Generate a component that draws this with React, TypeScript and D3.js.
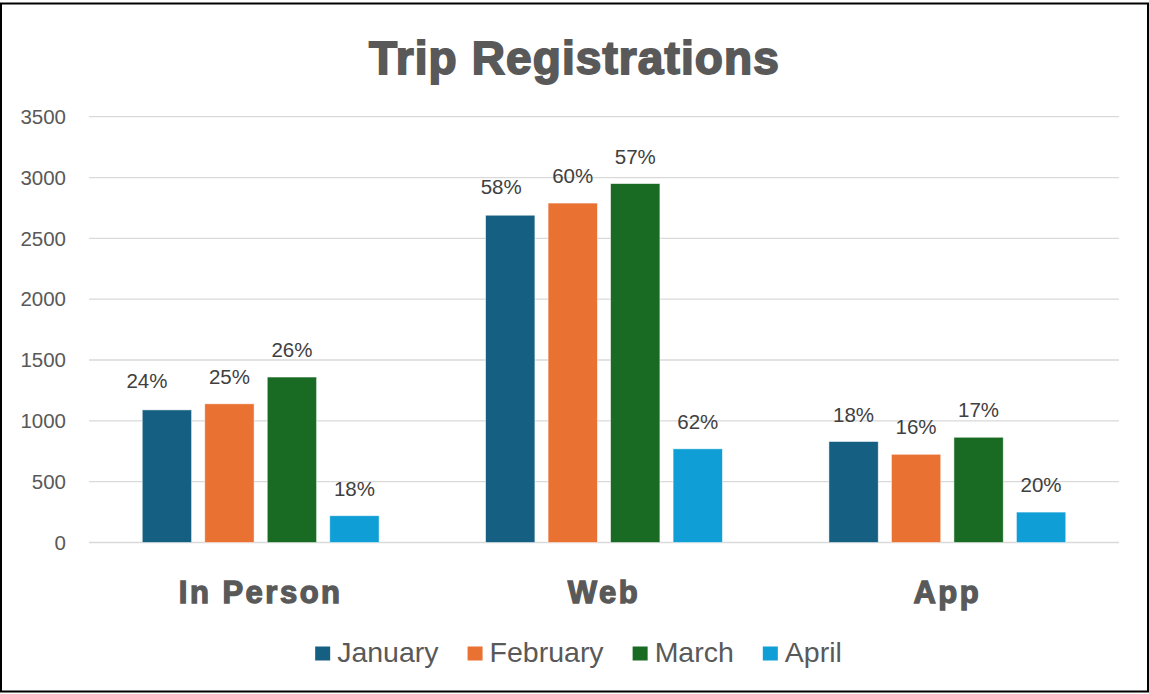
import React, { useRef, useEffect } from "react";
import * as d3 from "d3";

const W = 1149;
const H = 694;
const FONT = "'Liberation Sans', Arial, sans-serif";

const categories = ["In Person", "Web", "App"];
const months = ["January", "February", "March", "April"];
const colors = ["#156082", "#E97132", "#196B24", "#0F9ED5"];

// registrations per category, one array per month
const january = [1090, 2690, 830];
const february = [1140, 2790, 725];
const march = [1360, 2950, 865];
const april = [220, 770, 250];

// share of the month's total, as shown on the labels
const januaryPct = ["24%", "58%", "18%"];
const februaryPct = ["25%", "60%", "16%"];
const marchPct = ["26%", "57%", "17%"];
const aprilPct = ["18%", "62%", "20%"];

const yTicks = [0, 500, 1000, 1500, 2000, 2500, 3000, 3500];

const PLOT = { left: 89, right: 1119, top: 116.7, bottom: 542.5 };

// a couple of labels were dragged by hand in the original
const labelNudge: Record<string, [number, number]> = {
  "In Person|January": [-20, -2],
  "Web|January": [-9, -1],
};

export default function App() {
  const svgRef = useRef<SVGSVGElement>(null);

  useEffect(() => {
    document.body.style.margin = "0";
    const svg = d3.select(svgRef.current);
    svg.selectAll("*").remove();

    const values = [january, february, march, april];
    const pcts = [januaryPct, februaryPct, marchPct, aprilPct];

    const rows = categories.flatMap((cat, ci) =>
      months.map((m, mi) => ({
        cat,
        month: m,
        value: values[mi][ci],
        pct: pcts[mi][ci],
      })),
    );

    const x0 = d3
      .scaleBand<string>()
      .domain(categories)
      .range([PLOT.left, PLOT.right])
      .padding(0);
    const x1 = d3
      .scaleBand<string>()
      .domain(months)
      .range([0, x0.bandwidth()])
      .paddingInner(0.211)
      .paddingOuter(0.852);
    const y = d3
      .scaleLinear()
      .domain([0, 3500])
      .range([PLOT.bottom, PLOT.top]);
    const color = d3.scaleOrdinal<string>().domain(months).range(colors);

    // background + border
    svg
      .append("rect")
      .attr("width", W)
      .attr("height", H)
      .attr("fill", "#fff");
    svg
      .append("rect")
      .attr("x", 1)
      .attr("y", 3.5)
      .attr("width", W - 2)
      .attr("height", 688)
      .attr("fill", "none")
      .attr("stroke", "#000")
      .attr("stroke-width", 2);

    // title
    svg
      .append("text")
      .attr("x", W / 2)
      .attr("y", 74)
      .attr("text-anchor", "middle")
      .attr("font-family", FONT)
      .attr("font-size", 46)
      .attr("font-weight", 700)
      .attr("letter-spacing", 1.1)
      .attr("fill", "#595959")
      .attr("stroke", "#595959")
      .attr("stroke-width", 1.8)
      .text("Trip Registrations");

    // gridlines
    svg
      .append("g")
      .selectAll("line")
      .data(yTicks)
      .join("line")
      .attr("x1", PLOT.left)
      .attr("x2", PLOT.right)
      .attr("y1", (d) => y(d))
      .attr("y2", (d) => y(d))
      .attr("stroke", "#d9d9d9")
      .attr("stroke-width", 1.3);

    // y tick labels
    svg
      .append("g")
      .selectAll("text")
      .data(yTicks)
      .join("text")
      .attr("x", 66)
      .attr("y", (d) => y(d))
      .attr("dy", "0.35em")
      .attr("text-anchor", "end")
      .attr("font-family", FONT)
      .attr("font-size", 20.5)
      .attr("fill", "#595959")
      .text((d) => d);

    // bars
    svg
      .append("g")
      .selectAll("rect")
      .data(rows)
      .join("rect")
      .attr("x", (d) => x0(d.cat)! + x1(d.month)!)
      .attr("y", (d) => y(d.value))
      .attr("width", x1.bandwidth())
      .attr("height", (d) => y(0) - y(d.value))
      .attr("fill", (d) => color(d.month))
      .attr("stroke", "#fff")
      .attr("stroke-opacity", 0.6)
      .attr("stroke-width", 0.8);

    // data labels
    const nudge = (d: { cat: string; month: string }) =>
      labelNudge[`${d.cat}|${d.month}`] ?? [0, 0];
    svg
      .append("g")
      .selectAll("text")
      .data(rows)
      .join("text")
      .attr(
        "x",
        (d) => x0(d.cat)! + x1(d.month)! + x1.bandwidth() / 2 + nudge(d)[0],
      )
      .attr("y", (d) => y(d.value) - 20 + nudge(d)[1])
      .attr("text-anchor", "middle")
      .attr("font-family", FONT)
      .attr("font-size", 20.5)
      .attr("fill", "#404040")
      .text((d) => d.pct);

    // category labels
    svg
      .append("g")
      .selectAll("text")
      .data(categories)
      .join("text")
      .attr("x", (d) => x0(d)! + x0.bandwidth() / 2)
      .attr("y", 602.5)
      .attr("text-anchor", "middle")
      .attr("font-family", FONT)
      .attr("font-size", 31)
      .attr("font-weight", 700)
      .attr("letter-spacing", 2.5)
      .attr("fill", "#595959")
      .attr("stroke", "#595959")
      .attr("stroke-width", 1.3)
      .text((d) => d);

    // legend, centred on the chart
    const items = svg.append("g").selectAll("g").data(months).join("g");
    items
      .append("rect")
      .attr("y", 646.5)
      .attr("width", 15)
      .attr("height", 14)
      .attr("fill", (d) => color(d));
    const labels = items
      .append("text")
      .attr("x", 22)
      .attr("y", 662)
      .attr("font-family", FONT)
      .attr("font-size", 28.5)
      .attr("fill", "#595959")
      .text((d) => d);

    const widths = labels
      .nodes()
      .map((n) => (n as SVGTextElement).getComputedTextLength());
    const gap = 29;
    let cx = 0;
    const offsets = widths.map((w) => {
      const o = cx;
      cx += 22 + w + gap;
      return o;
    });
    const total = cx - gap;
    const start = W / 2 + 4 - total / 2;
    items.attr("transform", (_, i) => `translate(${start + offsets[i]},0)`);
  }, []);

  return (
    <svg ref={svgRef} width={W} height={H} style={{ display: "block" }} />
  );
}
